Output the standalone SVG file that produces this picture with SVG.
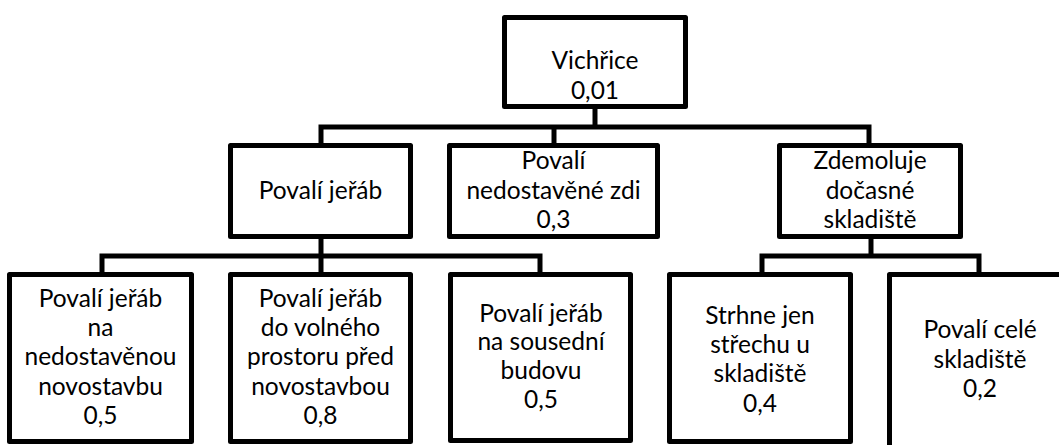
<svg xmlns="http://www.w3.org/2000/svg" width="1059" height="445" viewBox="0 0 1059 445">
<style>
.box{fill:#fff;stroke:#000;stroke-width:5;stroke-linejoin:round}
.con{fill:none;stroke:#000;stroke-width:5;stroke-linejoin:miter;stroke-linecap:butt}
text{font-family:Lato,"Liberation Sans",sans-serif;font-size:24.5px;fill:#000;text-anchor:middle}
</style>
<rect width="1059" height="445" fill="#fff"/>
<g id="connectors">
<path class="con" d="M595,109 V127"/>
<path class="con" d="M321,143 V127 H869 V143"/>
<path class="con" d="M554,127 V143"/>
<path class="con" d="M321,239 V272"/>
<path class="con" d="M102,272 V256 H540 V272"/>
<path class="con" d="M871,239 V256"/>
<path class="con" d="M762,272 V256 H979 V272"/>
</g>
<g id="root">
<rect class="box" x="504.5" y="17.5" width="181" height="89"/>
<text x="595" y="69">Vichřice</text>
<text x="595" y="99">0,01</text>
</g>
<g id="povali-jerab">
<rect class="box" x="230.5" y="145.5" width="180" height="91"/>
<text x="320.5" y="199">Povalí jeřáb</text>
</g>
<g id="povali-zdi">
<rect class="box" x="449.5" y="145.5" width="208" height="91"/>
<text x="553.5" y="169">Povalí</text>
<text x="553.5" y="199">nedostavěné zdi</text>
<text x="553.5" y="228">0,3</text>
</g>
<g id="zdemoluje">
<rect class="box" x="779.5" y="145.5" width="181" height="91"/>
<text x="870" y="169">Zdemoluje</text>
<text x="870" y="199">dočasné</text>
<text x="870" y="228">skladiště</text>
</g>
<g id="leaf1">
<rect class="box" x="9.5" y="274.5" width="182" height="167"/>
<text x="100.5" y="307">Povalí jeřáb</text>
<text x="100.5" y="336">na</text>
<text x="100.5" y="365">nedostavěnou</text>
<text x="100.5" y="395">novostavbu</text>
<text x="100.5" y="424">0,5</text>
</g>
<g id="leaf2">
<rect class="box" x="230.5" y="274.5" width="180" height="167"/>
<text x="320.5" y="307">Povalí jeřáb</text>
<text x="320.5" y="336">do volného</text>
<text x="320.5" y="365">prostoru před</text>
<text x="320.5" y="395">novostavbou</text>
<text x="320.5" y="424">0,8</text>
</g>
<g id="leaf3">
<rect class="box" x="450.5" y="274.5" width="180" height="166"/>
<text x="541" y="322">Povalí jeřáb</text>
<text x="541" y="350">na sousední</text>
<text x="541" y="379">budovu</text>
<text x="541" y="408">0,5</text>
</g>
<g id="leaf4">
<rect class="box" x="669.5" y="274.5" width="181" height="167"/>
<text x="760" y="324">Strhne jen</text>
<text x="760" y="353">střechu u</text>
<text x="760" y="382">skladiště</text>
<text x="760" y="412">0,4</text>
</g>
<g id="leaf5">
<rect class="box" x="889.5" y="274.5" width="190" height="190"/>
<text x="980" y="338">Povalí celé</text>
<text x="980" y="368">skladiště</text>
<text x="980" y="397">0,2</text>
</g>
</svg>
